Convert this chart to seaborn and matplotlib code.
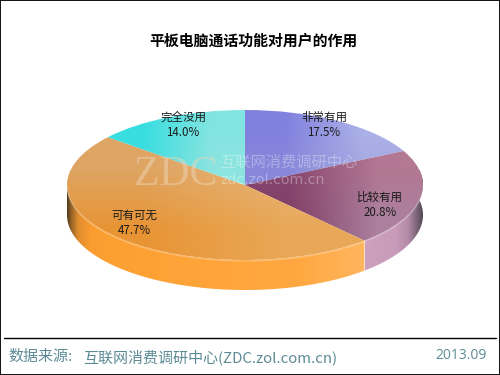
import numpy as np
import matplotlib
matplotlib.use("Agg")
import matplotlib.pyplot as plt
from matplotlib.patches import Polygon, PathPatch
import seaborn as sns

categories = ["非常有用", "比较有用", "可有可无", "完全没用"]
shares = [17.5, 20.8, 47.7, 14.0]
title = "平板电脑通话功能对用户的作用"
source_label = "数据来源:"
source_name = "互联网消费调研中心(ZDC.zol.com.cn)"
date_label = "2013.09"

# corner colours of each slice's top face: top-left, top-right, bottom-left, bottom-right
face_colours = [
    [(128, 128, 222), (172, 178, 232), (135, 135, 218), (165, 170, 226)],
    [(135, 70, 110), (178, 120, 148), (128, 62, 102), (172, 128, 158)],
    [(222, 165, 100), (232, 180, 120), (232, 148, 52), (232, 168, 88)],
    [(55, 222, 224), (130, 228, 224), (60, 220, 222), (140, 228, 224)],
]
# side shading: pixel x position -> colour
side_stops = {
    1: ([365, 395, 408, 416, 423],
        [(205, 160, 190), (200, 155, 185), (180, 140, 168), (130, 105, 125), (80, 72, 85)]),
    2: ([67, 71, 78, 90, 110, 300, 365],
        [(85, 60, 30), (150, 100, 40), (225, 142, 46), (250, 156, 48), (253, 160, 50), (255, 168, 65), (255, 182, 95)]),
}

sns.set_theme(style="white")
plt.rcParams["font.family"] = ["Noto Sans CJK SC", "DejaVu Sans"]

W, H = 500, 375
CX, CY, RX, RY, DEPTH = 245, 185, 178, 75, 30

fig = plt.figure(figsize=(W / 100, H / 100), dpi=100)
ax = fig.add_axes([0, 0, 1, 1])
wedges, _ = ax.pie(shares, startangle=90, counterclock=False, radius=1, center=(0, 0))
ax.set_aspect("auto")
xlim = (-CX / RX, (W - CX) / RX)
ylim = ((CY - H) / RY, CY / RY)


def px(x, y):
    return (x - CX) / RX, (CY - y) / RY


def rgb(cols):
    return np.array(cols, dtype=float) / 255


for w, cols in zip(wedges, face_colours):
    w.set_visible(False)
    bb = w.get_path().get_extents(w.get_patch_transform())
    arr = rgb(cols).reshape(2, 2, 3)
    im = ax.imshow(arr, extent=(bb.x0, bb.x1, bb.y0, bb.y1), origin="upper", aspect="auto",
                   interpolation="bilinear", zorder=3)
    patch = PathPatch(w.get_path(), transform=w.get_transform(), fc="none", ec="none")
    ax.add_patch(patch)
    im.set_clip_path(patch)

# extruded side, built from the slice boundaries
edges = np.cumsum([0] + shares) / sum(shares) * 360
d = DEPTH / RY
for i, (stop_x, stop_c) in side_stops.items():
    a0, a1 = edges[i], min(edges[i + 1], 270)
    th = np.radians(np.linspace(a0, a1, 160))
    xs, ys = np.sin(th), np.cos(th)
    verts = np.r_[np.c_[xs, ys], np.c_[xs, ys - d][::-1]]
    poly = Polygon(verts, closed=True, fc="none", ec="none", transform=ax.transData)
    ax.add_patch(poly)
    grid = np.linspace(stop_x[0], stop_x[-1], 360)
    c = rgb(stop_c)
    arr = np.stack([np.interp(grid, stop_x, c[:, k]) for k in range(3)], axis=1)[None, :, :]
    im = ax.imshow(arr, extent=(px(stop_x[0], 0)[0], px(stop_x[-1], 0)[0], -1 - d, 0.2), aspect="auto",
                   interpolation="bilinear", zorder=2)
    im.set_clip_path(poly)

# light rim on the front edge of the face
th = np.radians(np.linspace(90, 270, 200))
ax.plot(np.sin(th), np.cos(th) - 0.012, color="white", alpha=0.25, lw=1, zorder=4)

ax.set_xlim(xlim)
ax.set_ylim(ylim)
ax.axis("off")

# watermark
ax.text(*px(134, 185), "ZDC", family="Liberation Serif", fontsize=30, color=(0.93, 0.84, 0.72), alpha=0.5,
        ha="left", va="baseline", zorder=5)
ax.text(*px(220, 162), "互联网消费调研中心", fontsize=11, color="white", alpha=0.33, ha="left", va="center", zorder=5)
ax.text(*px(220, 180), "zdc.zol.com.cn", fontsize=10.2, family="DejaVu Sans", color="white", alpha=0.33,
        ha="left", va="center", zorder=5)

# slice labels
label_pos = [(324, 125), (380, 205), (134, 223), (183, 125)]
for name, val, (lx, ly) in zip(categories, shares, label_pos):
    ax.text(*px(lx, ly), f"{name}\n{val:.1f}%", fontsize=8.3, ha="center", va="center",
            color="#1a1a1a", linespacing=1.3, zorder=6)

ax.text(*px(253, 41), title, fontsize=10.7, fontweight="bold", ha="center", va="center", color="black", zorder=6)

# footer
ax.plot([px(4, 338)[0], px(496, 338)[0]], [px(4, 338)[1]] * 2, color="black", lw=1.0, zorder=6)
ax.text(*px(8, 357), source_label, fontsize=10.8, color="#5d8a95", ha="left", va="center", zorder=6)
ax.text(*px(83, 357), source_name, fontsize=10.8, color="#5d8a95", ha="left", va="center", zorder=6)
ax.text(*px(487, 356), date_label, fontsize=10, family="Open Sans", color="#5d8a95", ha="right", va="center", zorder=6)

# frame
fx0, fy0 = px(0.5, 374.5)
fx1, fy1 = px(499.5, 0.5)
ax.plot([fx0, fx1, fx1, fx0, fx0], [fy0, fy0, fy1, fy1, fy0], color="#111111", lw=1.4, zorder=7, clip_on=False)

fig.savefig("out.png", dpi=100)
